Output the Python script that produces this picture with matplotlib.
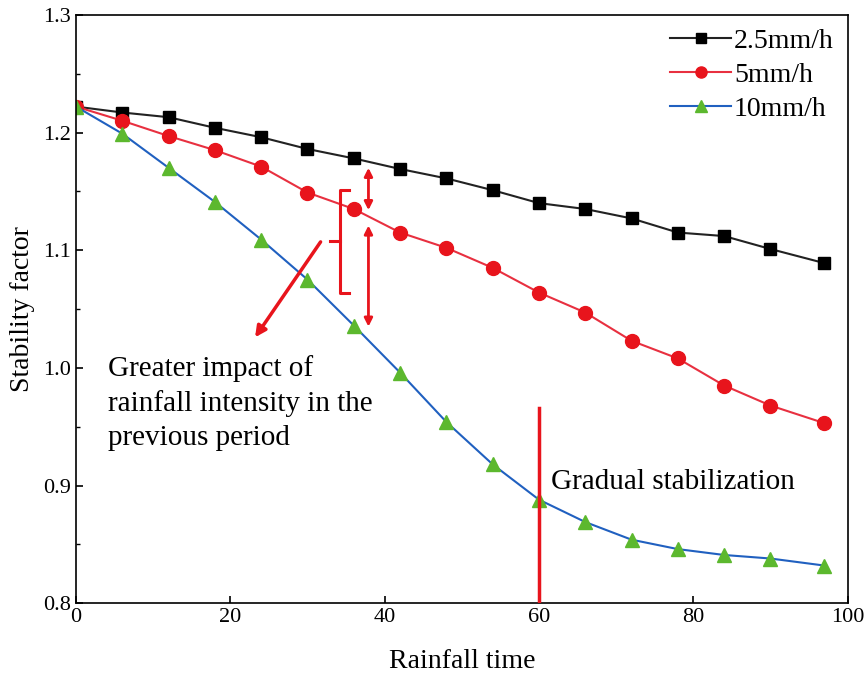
import matplotlib
matplotlib.use("Agg")
import matplotlib.pyplot as plt
from matplotlib.ticker import MultipleLocator, FormatStrFormatter

plt.rcParams['font.family'] = ['Liberation Serif', 'DejaVu Serif']

# rainfall time points
t = [0, 6, 12, 18, 24, 30, 36, 42, 48, 54, 60, 66, 72, 78, 84, 90, 97]

# stability factor for each rainfall intensity
sf_25 = [1.222, 1.217, 1.213, 1.204, 1.196, 1.186, 1.178, 1.169, 1.161, 1.151,
         1.140, 1.135, 1.127, 1.115, 1.112, 1.101, 1.089]
sf_5 = [1.222, 1.210, 1.197, 1.185, 1.171, 1.149, 1.135, 1.115, 1.102, 1.085,
        1.064, 1.047, 1.023, 1.008, 0.985, 0.968, 0.953]
sf_10 = [1.222, 1.199, 1.170, 1.141, 1.109, 1.075, 1.036, 0.996, 0.954, 0.918,
         0.888, 0.869, 0.854, 0.846, 0.841, 0.838, 0.832]

labels = ['2.5mm/h', '5mm/h', '10mm/h']

red = '#e8141c'

fig = plt.figure(figsize=(8.64, 6.74), dpi=100)
ax = fig.add_axes([0.088, 0.105, 0.893, 0.873])

ax.plot(t, sf_25, '-s', color='#222222', mfc='black', mec='black', lw=1.5, ms=9, label=labels[0])
ax.plot(t, sf_5, '-o', color='#e83040', mfc=red, mec=red, lw=1.5, ms=10, label=labels[1])
ax.plot(t, sf_10, '-^', color='#2060c0', mfc='#5cb82e', mec='#5cb82e', lw=1.5, ms=10, label=labels[2])

ax.set_xlim(0, 100)
ax.set_ylim(0.8, 1.3)
ax.xaxis.set_major_locator(MultipleLocator(20))
ax.yaxis.set_major_locator(MultipleLocator(0.1))
ax.yaxis.set_minor_locator(MultipleLocator(0.05))
ax.tick_params(axis='both', which='both', direction='in', labelsize=16)
ax.tick_params(which='major', length=5, width=1.2)
ax.tick_params(which='minor', length=3, width=1.0)
ax.yaxis.set_major_formatter(FormatStrFormatter('%.1f'))
for s in ax.spines.values():
    s.set_linewidth(1.2)

ax.set_xlabel('Rainfall time', fontsize=20, labelpad=16)
ax.set_ylabel('Stability factor', fontsize=20, labelpad=6)

leg = ax.legend(loc='upper right', frameon=False, fontsize=20, handlelength=2.2,
                handletextpad=0.1, labelspacing=0.3, borderaxespad=0.1, markerscale=0.8)

# annotations
ax.plot([60, 60], [0.966, 0.8], color=red, lw=2.5, zorder=5)
ax.text(61.5, 0.903, 'Gradual stabilization', fontsize=21, va='center', ha='left')

ax.text(4.2, 1.011, 'Greater impact of\nrainfall intensity in the\nprevious period',
        fontsize=21, va='top', ha='left', linespacing=1.4)

ax.annotate('', xy=(23.0, 1.024), xytext=(31.9, 1.109),
            arrowprops=dict(arrowstyle='-|>', color=red, lw=2.5, mutation_scale=16))

# bracket
ax.plot([35.4, 34.2, 34.2, 35.4], [1.151, 1.151, 1.064, 1.064], color=red, lw=2.2)
ax.plot([32.9, 34.2], [1.108, 1.108], color=red, lw=2.2)

# double arrows
ax.annotate('', xy=(37.9, 1.134), xytext=(37.9, 1.170),
            arrowprops=dict(arrowstyle='<|-|>', color=red, lw=2.0, mutation_scale=12,
                            shrinkA=0, shrinkB=0))
ax.annotate('', xy=(37.9, 1.035), xytext=(37.9, 1.121),
            arrowprops=dict(arrowstyle='<|-|>', color=red, lw=2.0, mutation_scale=12,
                            shrinkA=0, shrinkB=0))

fig.savefig('out.png', dpi=100)
